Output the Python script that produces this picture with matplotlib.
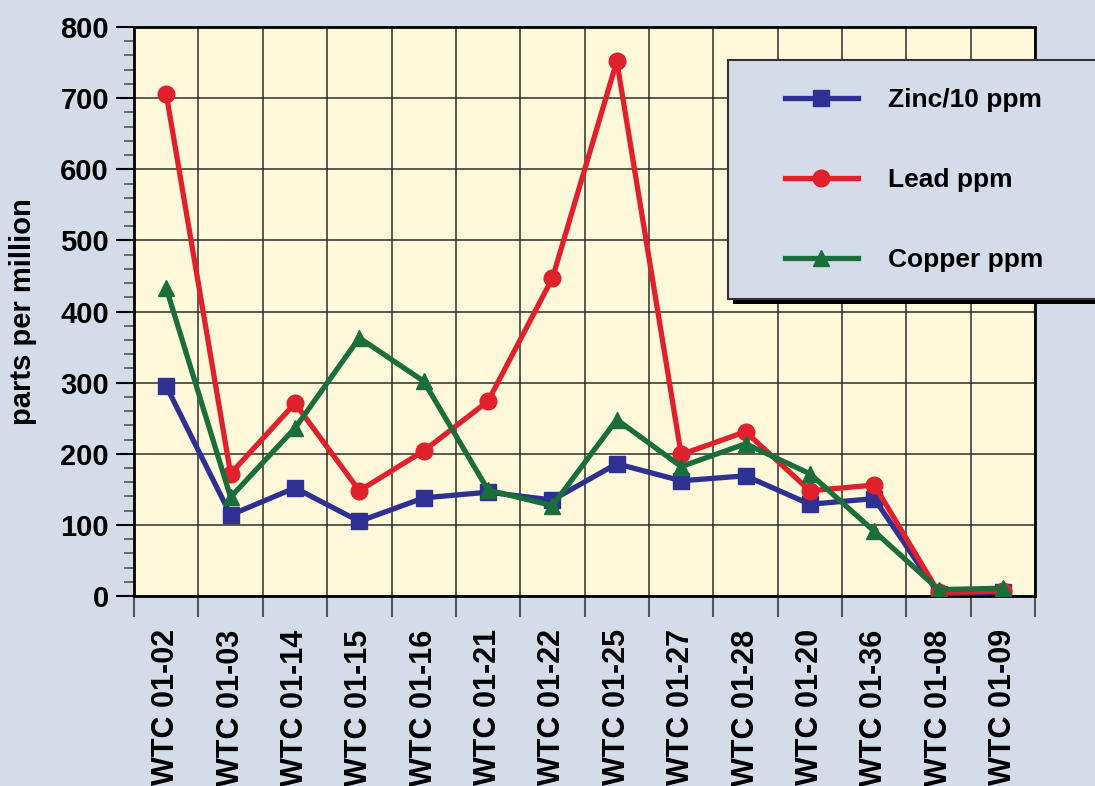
"""WTC dust samples: zinc/lead/copper concentrations."""
import matplotlib
matplotlib.use('Agg')
import matplotlib.pyplot as plt
from matplotlib.patches import Rectangle
from matplotlib.ticker import MultipleLocator

samples = ['WTC 01-02', 'WTC 01-03', 'WTC 01-14', 'WTC 01-15', 'WTC 01-16',
           'WTC 01-21', 'WTC 01-22', 'WTC 01-25', 'WTC 01-27', 'WTC 01-28',
           'WTC 01-20', 'WTC 01-36', 'WTC 01-08', 'WTC 01-09']
zinc = [295, 114, 152, 105, 138, 146, 135, 186, 162, 169, 129, 137, 3, 5]
lead = [706, 172, 271, 148, 204, 274, 447, 752, 199, 231, 148, 156, 5, 7]
copper = [433, 139, 236, 363, 302, 149, 127, 248, 182, 214, 172, 91, 9, 11]

BG = '#d3dce8'
PLOT_BG = '#fdf8d9'
plt.rcParams['font.family'] = ['Liberation Sans', 'DejaVu Sans']
plt.rcParams['font.weight'] = 'bold'

fig = plt.figure(figsize=(10.95, 7.86), dpi=100, facecolor=BG)
ax = fig.add_axes([0.1224, 0.2417, 0.8230, 0.7239], facecolor=PLOT_BG)

x = list(range(len(samples)))
ax.plot(x, zinc, color='#2e3192', lw=3.8, marker='s', ms=11, label='Zinc/10 ppm', zorder=3)
ax.plot(x, lead, color='#e0202a', lw=3.8, marker='o', ms=12, label='Lead ppm', zorder=4)
ax.plot(x, copper, color='#1a6e3c', lw=3.8, marker='^', ms=12, label='Copper ppm', zorder=5)

ax.set_xlim(-0.5, len(samples) - 0.5)
ax.set_ylim(0, 800)
ax.yaxis.set_major_locator(MultipleLocator(100))
ax.yaxis.set_minor_locator(MultipleLocator(20))
ax.set_xticks(x)
ax.set_xticklabels(samples, rotation=90, fontsize=22, fontweight='bold', va='top')
ax.set_xticks([i - 0.5 for i in range(len(samples) + 1)], minor=True)
ax.tick_params(axis='x', which='major', length=0, pad=24)
ax.tick_params(axis='x', which='minor', length=15, width=1.5, color='#555555')
ax.tick_params(axis='y', which='major', length=13, width=1.5, labelsize=21, pad=5)
ax.tick_params(axis='y', which='minor', length=7, width=1.2, color='#555555')
for t in ax.get_yticklabels():
    t.set_fontweight('bold')
ax.grid(True, which='major', axis='y', color='#222222', lw=1.3, alpha=0.8)
ax.grid(True, which='minor', axis='x', color='#222222', lw=1.3, alpha=0.8)
ax.set_axisbelow(True)
for s in ax.spines.values():
    s.set_linewidth(2)
ax.set_ylabel('parts per million', fontsize=21, fontweight='bold')
ax.yaxis.set_label_coords(-0.108, 0.5)

# legend box with drop shadow, hanging off the right edge
fig.patches.append(Rectangle((0.669, 0.613), 0.4, 0.305, transform=fig.transFigure,
                             facecolor='black', edgecolor='none', zorder=5))
fig.patches.append(Rectangle((0.665, 0.619), 0.4, 0.305, transform=fig.transFigure,
                             facecolor=BG, edgecolor='#333333', lw=1.5, zorder=6))
leg = fig.legend(loc='center left', bbox_to_anchor=(0.705, 0.771), frameon=False,
                 handlelength=2.75, handletextpad=1.15, labelspacing=2.12,
                 borderpad=0, prop={'weight': 'bold', 'size': 19})
leg.set_zorder(7)

fig.savefig('out.png', dpi=100, facecolor=BG)
